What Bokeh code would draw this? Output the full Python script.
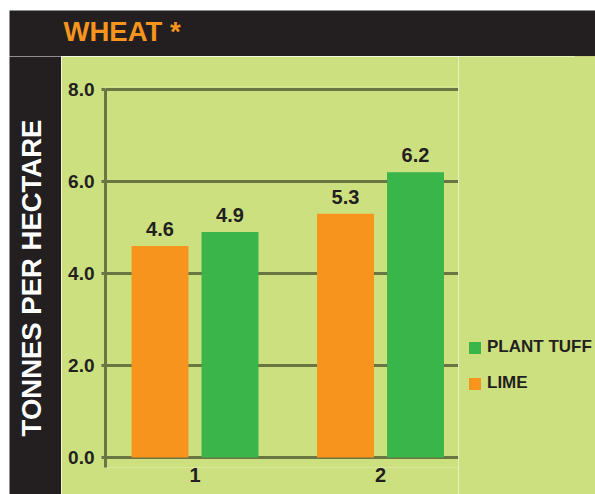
import numpy as np
from bokeh.plotting import figure
from bokeh.models import ColumnDataSource, Range1d, FixedTicker, Legend, LegendItem, Label
from bokeh.transform import dodge
from bokeh.layouts import column, row
from bokeh.core.properties import value
from bokeh.embed import file_html
from bokeh.resources import INLINE

# ---------------- data ----------------
TITLE = "WHEAT *"
Y_LABEL = "TONNES PER HECTARE"
GROUPS = ["1", "2"]
GROUP_POS = [1, 2]
LIME = [4.6, 5.3]
PLANT_TUFF = [4.9, 6.2]
SERIES_NAMES = ["PLANT TUFF", "LIME"]
Y_TICKS = [0, 2, 4, 6, 8]
Y_TICK_LABELS = ["0.0", "2.0", "4.0", "6.0", "8.0"]

# ---------------- style ----------------
DARK = "#231f20"
GREEN_BG = "#cde07f"
ORANGE = "#f7941d"
GREEN = "#39b54a"
OLIVE = "#6b7544"
FONT = "Liberation Sans"

common = dict(toolbar_location=None, output_backend="svg", title_location=None,
              x_axis_location=None, y_axis_location=None)


def no_align(fig):
    if "frame_align" in fig.properties():
        fig.frame_align = False


# ---------------- top dark band with title ----------------
top = figure(width=595, height=56, x_range=Range1d(0, 586), y_range=Range1d(46, 0),
             min_border_left=9, min_border_top=10, min_border_right=0, min_border_bottom=0,
             **common)
top.background_fill_color = DARK
top.border_fill_color = "white"
top.outline_line_color = None
top.grid.visible = False
no_align(top)
top.add_layout(Label(x=54, y=21, text=TITLE, text_color=ORANGE, text_font=FONT,
                     text_font_style="bold", text_font_size="27.5px",
                     text_align="left", text_baseline="middle"))

# ---------------- left dark strip with axis title ----------------
side = figure(width=61, height=438, x_range=Range1d(0, 52), y_range=Range1d(438, 0),
              min_border_left=9, min_border_top=0, min_border_right=0, min_border_bottom=0,
              **common)
side.background_fill_color = DARK
side.border_fill_color = "white"
side.outline_line_color = None
side.grid.visible = False
no_align(side)
side.add_layout(Label(x=22, y=221.5, text=Y_LABEL, angle=np.pi / 2, text_color="white",
                      text_font=FONT, text_font_style="bold", text_font_size="27.5px",
                      text_align="center", text_baseline="middle"))

# ---------------- main chart ----------------
Y_START, Y_END = -0.217, 8.065
X_START, X_END = 0.5175, 2.4205
p = figure(width=397, height=438, x_range=Range1d(X_START, X_END), y_range=Range1d(Y_START, Y_END),
           toolbar_location=None, output_backend="svg", title_location=None,
           min_border_left=44, min_border_right=0, min_border_top=30, min_border_bottom=27)
p.background_fill_color = GREEN_BG
p.border_fill_color = GREEN_BG
p.outline_line_color = None
no_align(p)

src = ColumnDataSource(dict(
    pos=GROUP_POS, lime=LIME, tuff=PLANT_TUFF,
    lime_txt=[f"{v:.1f}" for v in LIME], tuff_txt=[f"{v:.1f}" for v in PLANT_TUFF],
))
OFF = 0.1887
W = 0.307
r_lime = p.vbar(x=dodge("pos", -OFF, range=p.x_range), top="lime", width=W, source=src,
                fill_color=ORANGE, line_color=None)
r_tuff = p.vbar(x=dodge("pos", OFF, range=p.x_range), top="tuff", width=W, source=src,
                fill_color=GREEN, line_color=None)
lbl = dict(source=src, y_offset=-17, text_align="center", text_baseline="alphabetic",
           text_font=value(FONT), text_font_style="bold", text_font_size="20px", text_color=DARK)
p.text(x=dodge("pos", -OFF, range=p.x_range), y="lime", text="lime_txt", **lbl)
p.text(x=dodge("pos", OFF, range=p.x_range), y="tuff", text="tuff_txt", **lbl)

# y axis
yax = p.yaxis[0]
yax.ticker = FixedTicker(ticks=Y_TICKS)
yax.major_label_overrides = dict(zip(Y_TICKS, Y_TICK_LABELS))
yax.major_tick_out = 4
yax.major_tick_in = 0
yax.minor_tick_line_color = None
yax.major_tick_line_color = OLIVE
yax.major_tick_line_width = 3
yax.axis_line_color = OLIVE
yax.axis_line_width = 3
yax.bounds = (Y_START, Y_TICKS[-1])
yax.major_label_standoff = 7
yax.major_label_text_font = FONT
yax.major_label_text_font_style = "bold"
yax.major_label_text_font_size = "19px"
yax.major_label_text_color = DARK

# x axis
xax = p.xaxis[0]
xax.ticker = FixedTicker(ticks=GROUP_POS)
xax.major_label_overrides = dict(zip(GROUP_POS, GROUPS))
xax.axis_line_color = None
xax.major_tick_line_color = None
xax.minor_tick_line_color = None
xax.major_tick_out = 0
xax.major_tick_in = 0
xax.major_label_standoff = 0
xax.major_label_text_font = FONT
xax.major_label_text_font_style = "bold"
xax.major_label_text_font_size = "20px"
xax.major_label_text_color = DARK

# grid
p.xgrid.visible = False
p.ygrid.ticker = FixedTicker(ticks=Y_TICKS)
p.ygrid.grid_line_color = OLIVE
p.ygrid.grid_line_width = 3

# ---------------- legend panel (right) ----------------
# its key renderers share the bar data but sit outside this panel's visible range
leg = figure(width=137, height=438, x_range=Range1d(0, 1), y_range=Range1d(-20, -10),
             min_border_left=0, min_border_top=0, min_border_right=0, min_border_bottom=0,
             **common)
leg.background_fill_color = GREEN_BG
leg.border_fill_color = GREEN_BG
leg.outline_line_color = None
leg.grid.visible = False
no_align(leg)
k_tuff = leg.vbar(x="pos", top="tuff", width=W, source=src, fill_color=GREEN, line_color=None)
k_lime = leg.vbar(x="pos", top="lime", width=W, source=src, fill_color=ORANGE, line_color=None)
legend = Legend(items=[LegendItem(label=SERIES_NAMES[0], renderers=[k_tuff]),
                       LegendItem(label=SERIES_NAMES[1], renderers=[k_lime])],
                location=(9, 99), orientation="vertical", padding=0, margin=0, spacing=12,
                glyph_width=15, glyph_height=15, label_height=24, label_standoff=5,
                border_line_color=None, background_fill_alpha=0,
                label_text_font=FONT, label_text_font_style="bold",
                label_text_font_size="17px", label_text_color=DARK)
leg.add_layout(legend, "center")

layout = column(top, row(side, p, leg, spacing=0), spacing=0)
open("out.html", "w").write(file_html(layout, INLINE))
